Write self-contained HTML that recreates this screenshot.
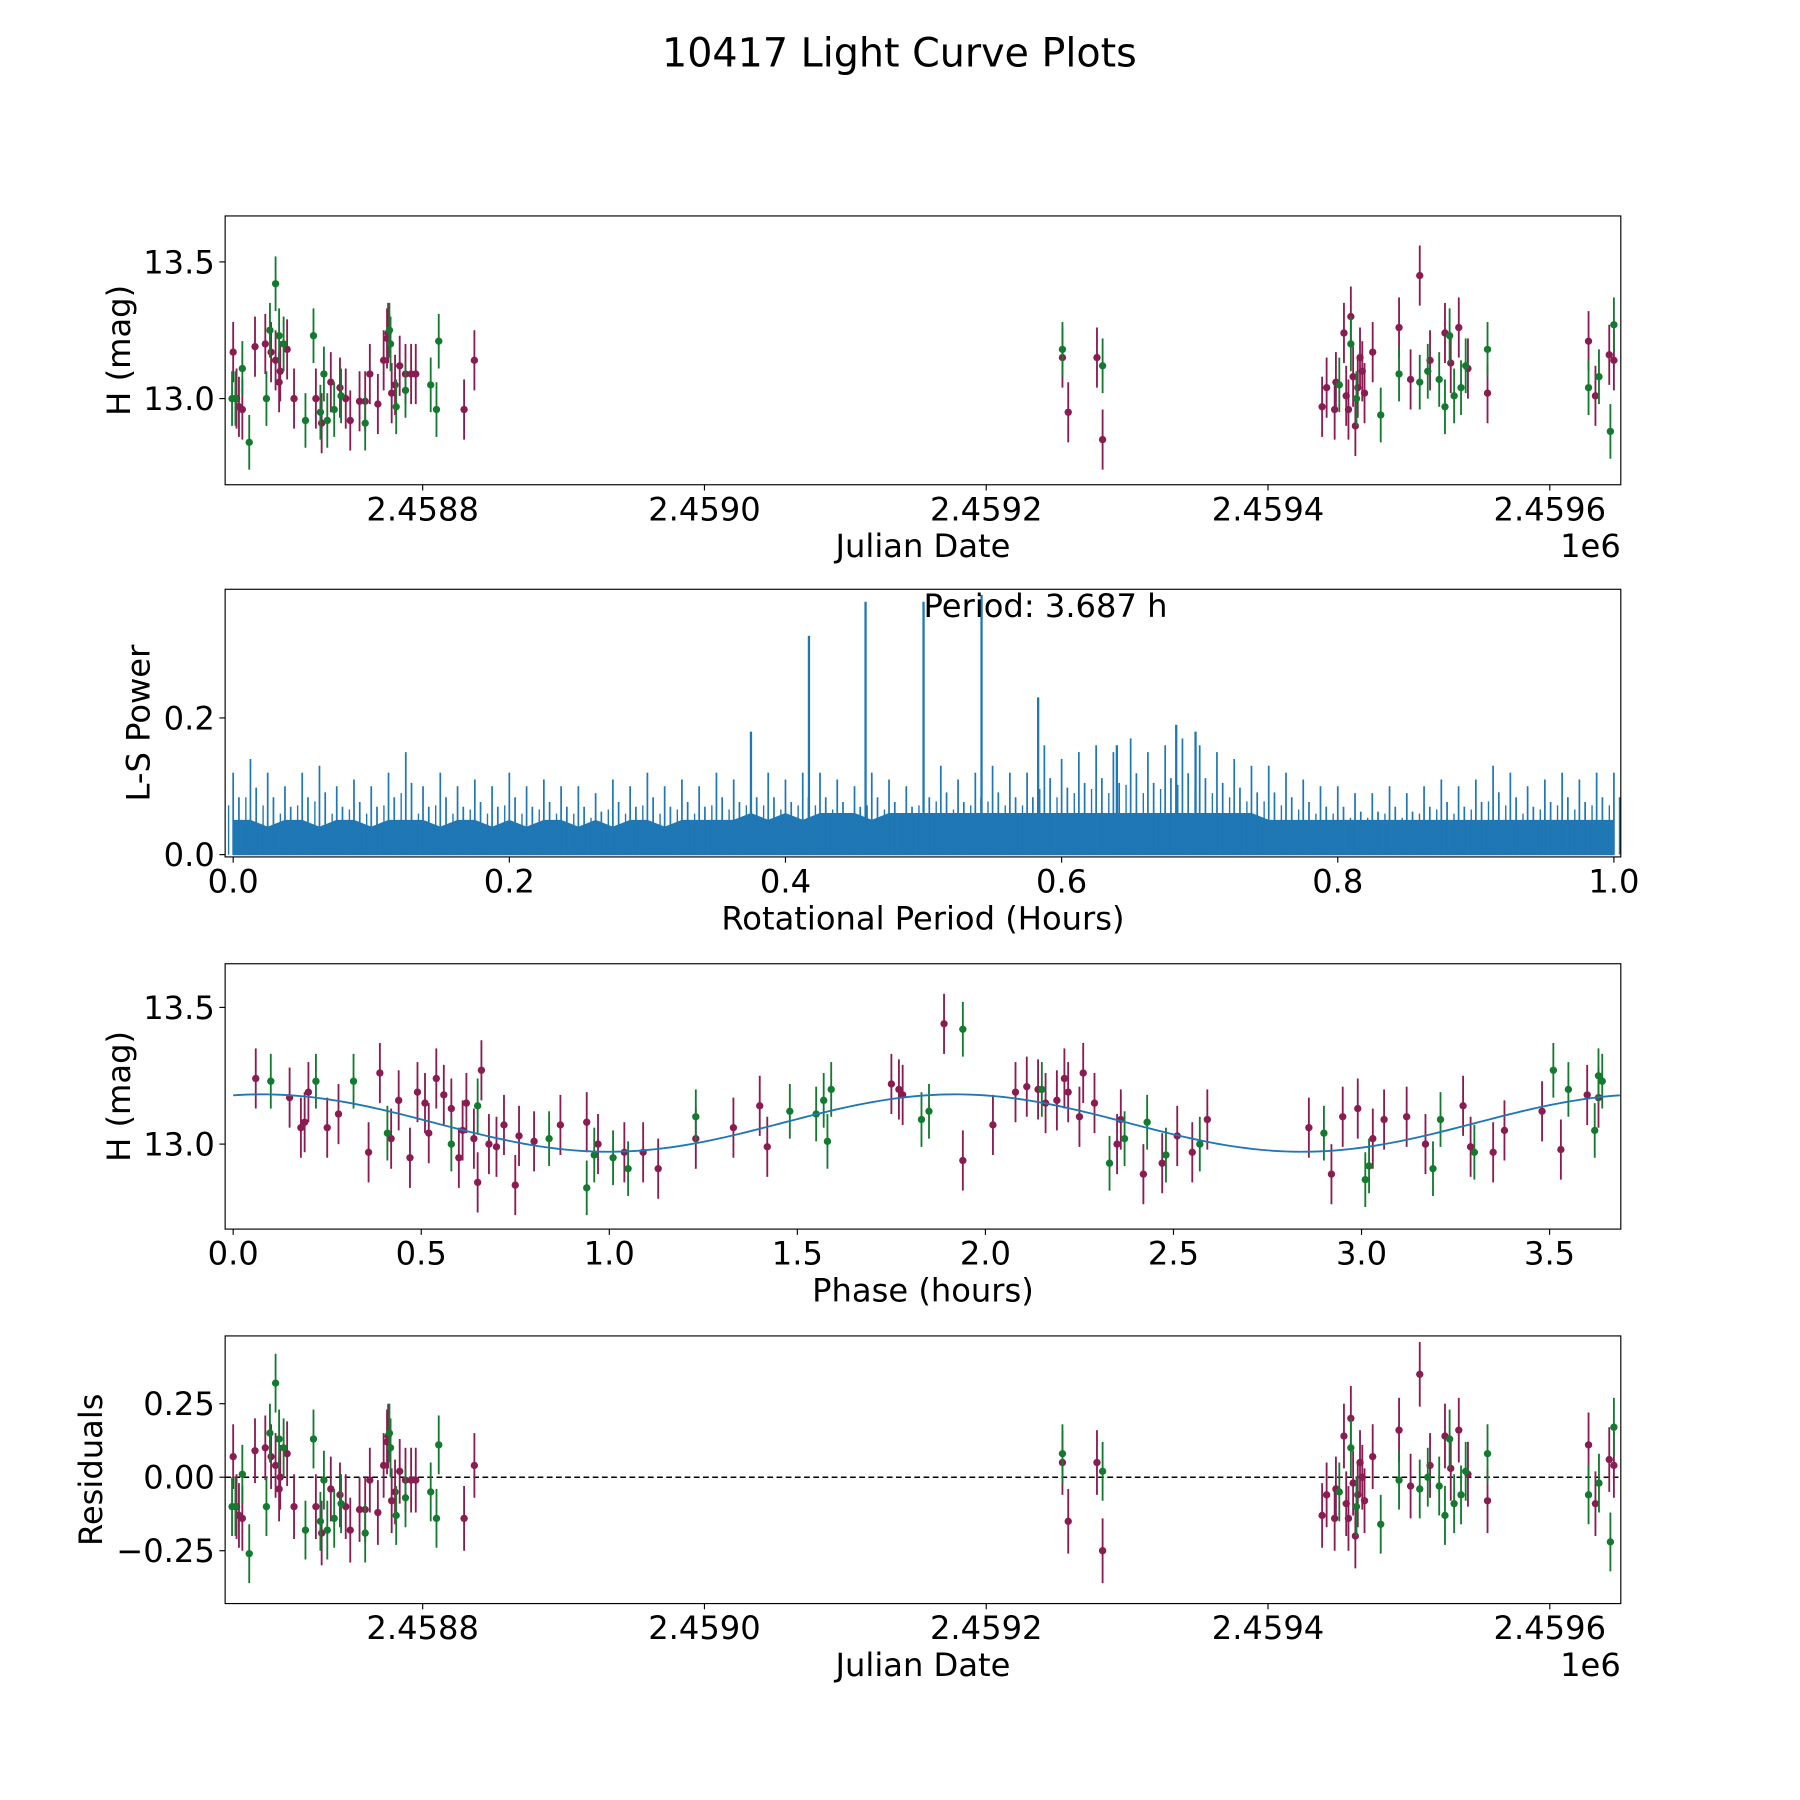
<!DOCTYPE html>
<html><head><meta charset="utf-8"><style>
html,body{margin:0;padding:0;background:#fff}
svg{display:block}
text{font-family:"DejaVu Sans","Liberation Sans",sans-serif;fill:#000}
</style></head><body>
<svg id="fig" width="1800" height="1800" viewBox="0 0 1567 1567" xmlns="http://www.w3.org/2000/svg">
<rect width="1567" height="1567" fill="#fff"/>
<text x="783" y="58" font-size="34.5" text-anchor="middle">10417 Light Curve Plots</text>
</svg>
<script>
// ---------- data ----------
const magentaDays=[665.5,667.9,669.6,672.0,681.0,688.3,692.4,695.6,698.1,698.9,703.8,708.7,724.2,728.3,734.8,741.3,745.4,748.6,755.2,759.2,762.5,768.2,772.3,774.7,775.5,778.0,780.4,783.7,787.8,791.8,795.1,829.4,836.7,
1254.1,1258.2,1278.6,1282.6,
1438.4,1441.6,1447.3,1448.2,1453.9,1455.5,1457.1,1458.8,1460.4,1462.0,1463.7,1465.3,1466.9,1468.5,1474.3,1493.0,1501.2,1507.7,1515.0,1525.6,1529.7,1535.4,1541.9,1555.8,
1627.5,1632.4,1642.2,1645.5];
const magentaMags=[13.17,13.0,12.97,12.96,13.19,13.2,13.17,13.14,13.06,13.1,13.18,13.0,13.0,12.91,13.06,13.04,13.0,12.92,12.99,12.99,13.09,12.98,13.14,13.22,13.24,13.02,13.05,13.12,13.09,13.09,13.09,12.96,13.14,
13.15,12.95,13.15,12.85,
12.97,13.04,12.96,13.06,13.24,13.01,12.96,13.3,13.08,12.9,13.04,13.15,13.1,13.02,13.17,13.26,13.07,13.45,13.14,13.24,13.13,13.26,13.11,13.02,
13.21,13.01,13.16,13.14];
const greenDays=[664.7,667.1,672.0,676.9,689.1,691.6,695.6,698.1,701.3,716.8,722.5,727.4,729.9,732.3,737.2,742.1,759.2,776.4,777.2,781.2,787.8,805.7,809.8,811.4,
1254.1,1282.6,
1450.6,1458.8,1462.8,1480.0,1493.0,1507.7,1513.4,1521.5,1525.6,1528.9,1532.1,1537.0,1540.3,1555.8,
1627.5,1634.9,1643.0,1645.5];
const greenMags=[13.0,13.0,13.11,12.84,13.0,13.25,13.42,13.23,13.2,12.92,13.23,12.95,13.09,12.92,12.96,13.01,12.91,13.25,13.2,12.97,13.03,13.05,12.96,13.21,
13.18,13.12,
13.05,13.2,13.0,12.94,13.09,13.06,13.1,13.07,12.97,13.23,13.01,13.04,13.12,13.18,
13.04,13.08,12.88,13.27];
const magentaErr=0.11, greenErr=0.10, meanMag=13.10;
const magPhase=[0.06,0.15,0.18,0.19,0.2,0.25,0.28,0.36,0.39,0.42,0.44,0.47,0.49,0.51,0.52,0.54,0.56,0.58,0.6,0.61,0.62,0.64,0.65,0.66,0.68,0.7,0.72,0.75,0.76,0.8,0.87,0.94,0.97,1.04,1.09,1.13,1.23,1.33,1.4,1.42,1.75,1.77,1.78,1.89,1.94,2.02,2.08,2.11,2.14,2.16,2.19,2.21,2.22,2.25,2.26,2.29,2.35,2.36,2.42,2.47,2.51,2.55,2.59,2.86,2.92,2.95,2.99,3.03,3.06,3.12,3.17,3.27,3.29,3.35,3.38,3.48,3.53,3.6,3.63];
const magPhaseMag=[13.24,13.17,13.06,13.08,13.19,13.06,13.11,12.97,13.26,13.02,13.16,12.95,13.19,13.15,13.04,13.24,13.18,13.13,12.95,13.05,13.15,13.02,12.86,13.27,13.0,12.99,13.07,12.85,13.03,13.01,13.07,13.08,13.0,12.97,12.97,12.91,13.02,13.06,13.14,12.99,13.22,13.2,13.18,13.44,12.94,13.07,13.19,13.21,13.2,13.15,13.16,13.24,13.19,13.1,13.26,13.15,13.0,13.09,12.89,12.93,13.03,12.97,13.09,13.06,12.89,13.1,13.13,13.02,13.09,13.1,13.0,13.14,12.99,12.97,13.05,13.12,12.98,13.18,13.17];
const grnPhase=[0.1,0.22,0.32,0.41,0.58,0.65,0.84,0.94,0.96,1.01,1.05,1.23,1.48,1.55,1.57,1.58,1.59,1.83,1.85,1.94,2.15,2.33,2.37,2.43,2.48,2.57,2.9,3.02,3.01,3.19,3.21,3.3,3.51,3.55,3.62,3.64,3.63];
const grnPhaseMag=[13.23,13.23,13.23,13.04,13.0,13.14,13.02,12.84,12.96,12.95,12.91,13.1,13.12,13.11,13.16,13.01,13.2,13.09,13.12,13.42,13.2,12.93,13.02,13.08,12.96,13.0,13.04,12.92,12.87,12.91,13.09,12.97,13.27,13.2,13.05,13.23,13.25];
const fitMean=13.077, fitAmp=0.105, fitPeakPhase=1.92, fitHalfPeriod=1.8435;
const bgPowers=[0.12,0.14,0.12,0.1,0.12,0.13,0.1,0.11,0.1,0.12,0.15,0.1,0.12,0.1,0.11,0.1,0.12,0.1,0.11,0.1,0.1,0.09,0.11,0.1,0.12,0.1,0.11,0.1,0.12,0.11,0.12,0.12,0.11,0.12,0.12,0.11,0.1,0.12,0.11,0.1,0.12,0.13,0.11,0.12,0.13,0.12,0.12,0.16,0.14,0.15,0.16,0.15,0.17,0.15,0.16,0.17,0.16,0.15,0.14,0.13,0.13,0.12,0.11,0.1,0.1,0.09,0.09,0.1,0.09,0.1,0.11,0.1,0.11,0.13,0.12,0.1,0.11,0.12,0.11,0.12,0.12];
const floorPowers=[0.05,0.05,0.04,0.05,0.05,0.04,0.05,0.05,0.04,0.05,0.05,0.05,0.04,0.05,0.05,0.04,0.05,0.04,0.05,0.05,0.04,0.05,0.04,0.05,0.05,0.04,0.05,0.05,0.05,0.05,0.06,0.05,0.06,0.05,0.06,0.06,0.06,0.05,0.06,0.06,0.06,0.06,0.06,0.06,0.06,0.06,0.06,0.06,0.06,0.06,0.06,0.06,0.06,0.06,0.06,0.06,0.06,0.06,0.06,0.06,0.05,0.05,0.05,0.05,0.05,0.05,0.05,0.05,0.05,0.05,0.05,0.05,0.05,0.05,0.05,0.05,0.05,0.05,0.05,0.05,0.05];
const peakPeriods=[0.375,0.417,0.458,0.5,0.542,0.583,0.64,0.683,0.697];
const peakPowers=[0.18,0.32,0.37,0.37,0.38,0.23,0.16,0.19,0.18];
const jdTicks=[800,1000,1200,1400,1600];
const jdTickLabels=["2.4588","2.4590","2.4592","2.4594","2.4596"];
const magTicks=[13.0,13.5], magTickLabels=["13.0","13.5"];
const perTicks=[0,0.2,0.4,0.6,0.8,1.0], perTickLabels=["0.0","0.2","0.4","0.6","0.8","1.0"];
const powTicks=[0,0.2], powTickLabels=["0.0","0.2"];
const phTicks=[0,0.5,1,1.5,2,2.5,3,3.5], phTickLabels=["0.0","0.5","1.0","1.5","2.0","2.5","3.0","3.5"];
const resTicks=[-0.25,0,0.25], resTickLabels=["\u22120.25","0.00","0.25"];

// ---------- drawing ----------
const NS="http://www.w3.org/2000/svg";
const svg=document.getElementById('fig');
function mk(tag,attrs,parent){const e=document.createElementNS(NS,tag);for(const k in attrs)e.setAttribute(k,attrs[k]);(parent||svg).appendChild(e);return e;}
const MAG='#8a1c52', GRN='#137a2f', BLUE='#1f77b4';
const L=196,R=1411,FS=28;
function lin(d0,d1,r0,r1){return v=>r0+(v-d0)/(d1-d0)*(r1-r0);}

function frame(name,top,bot,xs,xt,xl,ys,yt,yl,xlabel,ylabel,ylabX){
  const g=mk('g',{});
  
  
  xt.forEach((v,i)=>{const x=xs(v);
    const t=mk('line',{x1:x,x2:x,y1:bot,y2:bot+5,stroke:'#000','stroke-width':1},g);
    
    const tx=mk('text',{x:x,y:bot+31,'font-size':FS,'text-anchor':'middle'},g);tx.textContent=xl[i];
    });
  yt.forEach((v,i)=>{const y=ys(v);
    const t=mk('line',{x1:L-5,x2:L,y1:y,y2:y,stroke:'#000','stroke-width':1},g);
    
    const tx=mk('text',{x:L-9,y:y+10,'font-size':FS,'text-anchor':'end'},g);tx.textContent=yl[i];
    });
  const xlab=mk('text',{x:(L+R)/2,y:bot+63,'font-size':FS,'text-anchor':'middle'},g);xlab.textContent=xlabel;
  
  const ylab=mk('text',{x:0,y:0,'font-size':FS,'text-anchor':'middle',transform:`translate(${ylabX},${(top+bot)/2}) rotate(-90)`},g);ylab.textContent=ylabel;
  
  return g;
}
function border(top,bot){const r=mk('rect',{x:L,y:top,width:R-L,height:bot-top,fill:'none',stroke:'#000','stroke-width':1});
  }
function errPts(g,xsArr,ysArr,err,col,xs,ys,name,clip){
  xsArr.forEach((xv,i)=>{const x=xs(xv),y=ys(ysArr[i]);
    const l=mk('line',{x1:x,x2:x,y1:ys(ysArr[i]+err),y2:ys(ysArr[i]-err),stroke:col,'stroke-width':1.6,'clip-path':clip},g);
    
    const c=mk('circle',{cx:x,cy:y,r:3.2,fill:col,'clip-path':clip},g);
    });
}
const defs=mk('defs',{});
[[188,422],[513,746],[839,1070],[1163,1396]].forEach((p,i)=>{const cp=mk('clipPath',{id:'c'+i},defs);mk('rect',{x:L,y:p[0],width:R-L,height:p[1]-p[0]},cp);});

// Panel 1
{const top=188,bot=422;const xs=lin(659.8,1650.4,L,R);const ys=lin(13.0,13.5,347,228);
 const g=frame('light-curve-panel',top,bot,xs,jdTicks,jdTickLabels,ys,magTicks,magTickLabels,'Julian Date','H (mag)',113);
 errPts(g,magentaDays,magentaMags,magentaErr,MAG,xs,ys,'magenta','url(#c0)');
 errPts(g,greenDays,greenMags,greenErr,GRN,xs,ys,'green','url(#c0)');
 border(top,bot);
 const e=mk('text',{x:R,y:bot+63,'font-size':FS,'text-anchor':'end'});e.textContent='1e6';
 }

// Panel 2
{const top=513,bot=746;const xs=lin(0,1,203,1405);const ys=lin(0,0.2,744,625);
 const g=frame('periodogram-panel',top,bot,xs,perTicks,perTickLabels,ys,powTicks,powTickLabels,'Rotational Period (Hours)','L-S Power',130);
 const step=1/(floorPowers.length-1);
 let d=`M${xs(0)},${ys(0)}`;floorPowers.forEach((p,i)=>{d+=` L${xs(i*step)},${ys(p)}`;});d+=` L${xs(1)},${ys(0)} Z`;
 const f=mk('path',{d:d,fill:BLUE,stroke:BLUE,'stroke-width':1},g);
 
 const bstep=1/(bgPowers.length-1);
 bgPowers.forEach((p,i)=>{const x=xs(i*bstep);
   const l=mk('line',{x1:x,x2:x,y1:ys(0),y2:ys(p),stroke:BLUE,'stroke-width':1.5,'clip-path':'url(#c1)'},g);
   
   const l2=mk('line',{x1:x+5,x2:x+5,y1:ys(0),y2:ys(p*0.7),stroke:BLUE,'stroke-width':1.5,'clip-path':'url(#c1)'},g);
   
   const l3=mk('line',{x1:x-4,x2:x-4,y1:ys(0),y2:ys(p*0.6),stroke:BLUE,'stroke-width':1.2,'clip-path':'url(#c1)'},g);
   });
 peakPeriods.forEach((pp,i)=>{const x=xs(pp);
   const l=mk('line',{x1:x,x2:x,y1:ys(0),y2:ys(peakPowers[i]),stroke:BLUE,'stroke-width':2,'clip-path':'url(#c1)'},g);
   });
 const t=mk('text',{x:804,y:537,'font-size':FS},g);t.textContent='Period: 3.687 h';
 
 border(top,bot);}

// Panel 3
{const top=839,bot=1070;const xs=lin(0,3.5,203,1349);const ys=lin(13.0,13.5,996,877);
 const g=frame('phase-panel',top,bot,xs,phTicks,phTickLabels,ys,magTicks,magTickLabels,'Phase (hours)','H (mag)',113);
 errPts(g,magPhase,magPhaseMag,magentaErr,MAG,xs,ys,'magenta-phase','url(#c2)');
 errPts(g,grnPhase,grnPhaseMag,greenErr,GRN,xs,ys,'green-phase','url(#c2)');
 let d='';for(let k=0;k<=200;k++){const t=3.687*k/200;const m=fitMean+fitAmp*Math.cos(2*Math.PI*(t-fitPeakPhase)/fitHalfPeriod);d+=(k?' L':'M')+xs(t)+','+ys(m);}
 const p=mk('path',{d:d,fill:'none',stroke:BLUE,'stroke-width':1.6},g);
 
 border(top,bot);}

// Panel 4
{const top=1163,bot=1396;const xs=lin(659.8,1650.4,L,R);const ys=lin(0,0.25,1286,1222);
 const g=frame('residuals-panel',top,bot,xs,jdTicks,jdTickLabels,ys,resTicks,resTickLabels,'Julian Date','Residuals',89);
 const zl=mk('line',{x1:L,x2:R,y1:ys(0),y2:ys(0),stroke:'#000','stroke-width':1.3,'stroke-dasharray':'5,3'},g);
 
 errPts(g,magentaDays,magentaMags.map(m=>m-meanMag),magentaErr,MAG,xs,ys,'magenta-residual','url(#c3)');
 errPts(g,greenDays,greenMags.map(m=>m-meanMag),greenErr,GRN,xs,ys,'green-residual','url(#c3)');
 border(top,bot);
 const e=mk('text',{x:R,y:bot+63,'font-size':FS,'text-anchor':'end'});e.textContent='1e6';
 }
</script>
</body></html>
